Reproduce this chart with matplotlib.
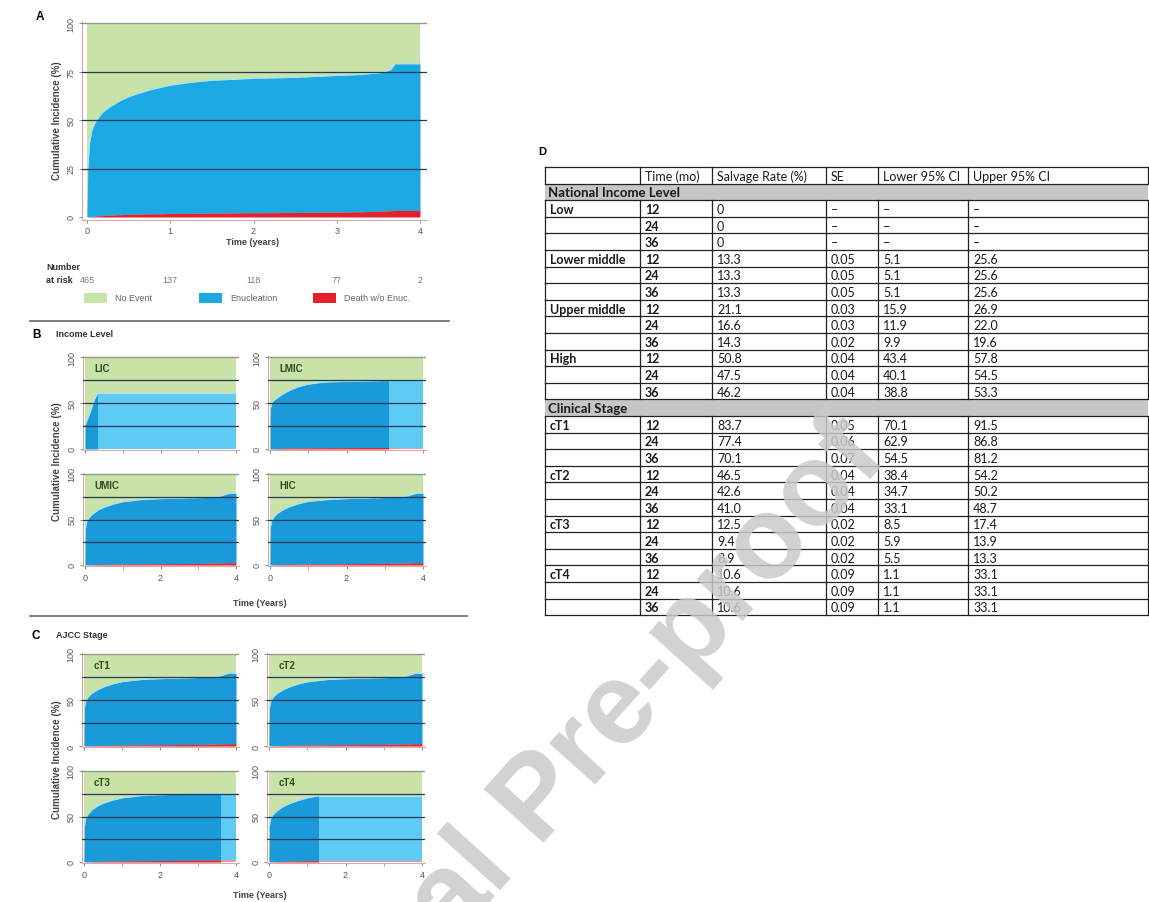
import numpy as np
import matplotlib
matplotlib.use('Agg')
import matplotlib.pyplot as plt

# ---- competing-risk curves (cumulative incidence, %) ----
# Panel A: whole cohort
A_T = [0, 0.01, 0.03, 0.06, 0.1, 0.15, 0.2, 0.3, 0.4, 0.5, 0.6, 0.75, 0.9, 1.0,
       1.25, 1.5, 1.75, 2.0, 2.5, 3.0, 3.3, 3.55, 3.65, 3.7, 4.0]
A_ENUC = [0, 25, 38, 44.8, 48.6, 51.4, 53.7, 56.5, 58.8, 60.6, 62, 63.9, 65.3, 66.2,
          67.6, 68.5, 68.9, 69.3, 69.7, 70.5, 70.8, 71.5, 72.8, 75.6, 75.6]
A_DEATH = [0, 0, 0, 0.2, 0.4, 0.6, 0.8, 1.0, 1.2, 1.4, 1.5, 1.6, 1.7, 1.8,
           1.9, 2.0, 2.1, 2.2, 2.3, 2.5, 2.7, 3.0, 3.2, 3.4, 3.4]
RISK_T = [0, 1, 2, 3, 4]
RISK_N = [465, 137, 118, 77, 2]

# Panel B: income level
LIC_T = [0, 0.005, 0.05, 0.1, 0.15, 0.2, 0.25, 0.3, 0.35]
LIC_ENUC = [0, 26, 31, 36, 42, 48, 54, 58, 61]
LIC_DEATH = [0, 0, 0, 0, 0, 0, 0, 0, 0]
LMIC_T = [0, 0.01, 0.04, 0.1, 0.2, 0.3, 0.45, 0.6, 0.8, 1.0, 1.25, 1.5, 2.0, 2.5, 3.1]
LMIC_ENUC = [0, 44, 50, 52.7, 55.5, 58.3, 61.6, 64.5, 67.4, 69.3, 70.7, 71.6, 72, 72.4, 72.9]
LMIC_DEATH = [0, 0, 0, 0.3, 0.5, 0.7, 0.9, 1.0, 1.1, 1.2, 1.3, 1.4, 1.5, 1.6, 1.6]
UMIC_T = [0, 0.01, 0.04, 0.1, 0.2, 0.35, 0.5, 0.75, 1.0, 1.5, 2.0, 2.5, 3.0, 3.4,
          3.6, 3.75, 3.85, 4.0]
UMIC_ENUC = [0, 40, 47, 51.8, 55.6, 59.9, 62.8, 66.1, 68.5, 70.8, 71.6, 71.9, 72.2, 72.8,
             73.8, 75.6, 76.5, 76.5]
UMIC_DEATH = [0, 0, 0, 0.2, 0.4, 0.6, 0.7, 0.9, 1.0, 1.2, 1.4, 1.6, 1.8, 2.0,
              2.2, 2.4, 2.5, 2.5]
HIC_T = UMIC_T
HIC_ENUC = [0, 41, 48, 52.8, 56.6, 60.4, 63.3, 66.6, 69, 70.8, 71.6, 71.9, 72.4, 73,
            73.8, 75.6, 76.5, 76.5]
HIC_DEATH = UMIC_DEATH

# Panel C: AJCC clinical stage
CT1_T = UMIC_T
CT1_ENUC = [0, 42, 48, 52.8, 56.6, 60.4, 63.3, 66.6, 69, 71.1, 71.9, 72.2, 72.7, 73.2,
            74.3, 76.1, 77, 76.5]
CT1_DEATH = UMIC_DEATH
CT2_T = UMIC_T
CT2_ENUC = [0, 41, 47.5, 52.5, 56.4, 60.2, 63, 66.4, 68.8, 71, 71.8, 72.1, 72.5, 73,
            74, 75.8, 76.8, 76.5]
CT2_DEATH = UMIC_DEATH
CT3_T = [0, 0.01, 0.04, 0.1, 0.2, 0.35, 0.5, 0.75, 1.0, 1.5, 2.0, 2.5, 3.0, 3.6]
CT3_ENUC = [0, 40, 47, 51.8, 56.6, 60.9, 63.7, 67, 69.3, 71.6, 72.4, 72.7, 73, 73.3]
CT3_DEATH = [0, 0, 0, 0.2, 0.4, 0.6, 0.8, 1.0, 1.2, 1.4, 1.6, 1.8, 2.0, 2.2]
CT4_T = [0, 0.01, 0.04, 0.1, 0.2, 0.35, 0.5, 0.75, 1.0, 1.3]
CT4_ENUC = [0, 40, 47, 51.8, 55.6, 59.9, 62.6, 66.4, 69.1, 71.5]
CT4_DEATH = [0, 0, 0, 0.2, 0.4, 0.6, 0.9, 1.1, 1.4, 1.5]

INCOME_NAMES = ["LIC", "LMIC", "UMIC", "HIC"]
STAGE_NAMES = ["cT1", "cT2", "cT3", "cT4"]
LEGEND_LABELS = ["No Event", "Enucleation", "Death w/o Enuc."]

# ---- table D ----
TABLE_HEADER = ["", "Time (mo)", "Salvage Rate (%)", "SE", "Lower 95% CI", "Upper 95% CI"]
SECTION_TITLES = ["National Income Level", "Clinical Stage"]
INCOME_LEVELS = ["Low", "Lower middle", "Upper middle", "High"]
STAGES = ["cT1", "cT2", "cT3", "cT4"]
MONTHS = [12, 24, 36]
INCOME_RATE = [0, 0, 0, 13.3, 13.3, 13.3, 21.1, 16.6, 14.3, 50.8, 47.5, 46.2]
INCOME_SE = [None, None, None, 0.05, 0.05, 0.05, 0.03, 0.03, 0.02, 0.04, 0.04, 0.04]
INCOME_LO = [None, None, None, 5.1, 5.1, 5.1, 15.9, 11.9, 9.9, 43.4, 40.1, 38.8]
INCOME_HI = [None, None, None, 25.6, 25.6, 25.6, 26.9, 22.0, 19.6, 57.8, 54.5, 53.3]
STAGE_RATE = [83.7, 77.4, 70.1, 46.5, 42.6, 41.0, 12.5, 9.4, 8.9, 10.6, 10.6, 10.6]
STAGE_SE = [0.05, 0.06, 0.07, 0.04, 0.04, 0.04, 0.02, 0.02, 0.02, 0.09, 0.09, 0.09]
STAGE_LO = [70.1, 62.9, 54.5, 38.4, 34.7, 33.1, 8.5, 5.9, 5.5, 1.1, 1.1, 1.1]
STAGE_HI = [91.5, 86.8, 81.2, 54.2, 50.2, 48.7, 17.4, 13.9, 13.3, 33.1, 33.1, 33.1]

GREEN = '#c9e2a7'
BLUE_A = '#1ca8e2'
BLUE = '#1a9ad8'
BLUE_LIGHT = '#5ecbf5'
RED = '#e3202b'
RED_LIGHT = '#f0959b'
GRID = '#243a52'
SPINE = '#d8a7ad'
TXT = '#555555'
LAB = '#2f4a1e'

W, H = 1149, 903
fig = plt.figure(figsize=(W / 100, H / 100), dpi=100)
plt.rcParams['font.family'] = ['Liberation Sans', 'DejaVu Sans']


def place(x0, x4, y0, y100, xpad=(0.06, 0.08), ypad=(1.5, 1.5)):
    sx = (x4 - x0) / 4.0
    sy = (y0 - y100) / 100.0
    left, right = x0 - xpad[0] * sx, x4 + xpad[1] * sx
    bottom, top = y0 + ypad[0] * sy, y100 - ypad[1] * sy
    ax = fig.add_axes([left / W, 1 - bottom / H, (right - left) / W, (bottom - top) / H])
    ax.set_xlim(-xpad[0], 4 + xpad[1])
    ax.set_ylim(-ypad[0], 100 + ypad[1])
    return ax


def draw_cif(ax, t, enuc, death, blue, yticks, xlabels=True, minor=True):
    t = np.asarray(t, float)
    death = np.asarray(death, float)
    top = death + np.asarray(enuc, float)
    ax.fill_between([0, 4], 0, 100, color=GREEN, lw=0, zorder=1)
    ax.fill_between(t, death, top, color=blue, lw=0, zorder=2)
    ax.fill_between(t, 0, death, color=RED, lw=0, zorder=3)
    if t[-1] < 4:
        ax.fill_between([t[-1], 4], death[-1], top[-1], color=BLUE_LIGHT, lw=0, zorder=2)
        ax.fill_between([t[-1], 4], 0, death[-1], color=RED_LIGHT, lw=0, zorder=3)
        ax.plot([t[-1], 4], [top[-1], top[-1]], color='#a9e2f2', lw=0.8, zorder=4)
    ax.plot(t[1:], top[1:], color='#a9e2f2', lw=0.9, zorder=4)
    for g in (25, 50, 75):
        ax.axhline(g, color=GRID, lw=0.9, zorder=5)
    ax.axhline(100, color='#8e9c86', lw=1.0, zorder=5)
    for s in ('top', 'right'):
        ax.spines[s].set_visible(False)
    for s in ('left', 'bottom'):
        ax.spines[s].set_color(SPINE)
        ax.spines[s].set_linewidth(0.8)
    ax.set_yticks(yticks)
    ax.set_yticklabels([str(v) for v in yticks], rotation=90, va='center')
    if minor:
        ax.set_xticks([0, 2, 4])
        ax.set_xticks([1, 3], minor=True)
    else:
        ax.set_xticks([0, 1, 2, 3, 4])
    ax.tick_params(labelsize=6.5, colors='#777777', length=2.5, width=0.6, pad=2,
                   labelcolor=TXT)
    ax.tick_params(which='minor', length=2, width=0.6, colors='#999999')
    if not xlabels:
        ax.set_xticklabels([])


# panel A
ax_a = place(87, 420, 218, 24, xpad=(0.06, 0.08), ypad=(1.5, 1.0))
draw_cif(ax_a, A_T, A_ENUC, A_DEATH, BLUE_A, [0, 25, 50, 75, 100], minor=False)

# panel B
b_axes = [place(85, 236, 450, 358), place(270, 423, 450, 358),
          place(85, 236, 566, 475), place(270, 423, 566, 475)]
b_data = [(LIC_T, LIC_ENUC, LIC_DEATH), (LMIC_T, LMIC_ENUC, LMIC_DEATH),
          (UMIC_T, UMIC_ENUC, UMIC_DEATH), (HIC_T, HIC_ENUC, HIC_DEATH)]
for i, (ax, (t, e, d)) in enumerate(zip(b_axes, b_data)):
    draw_cif(ax, t, e, d, BLUE, [0, 50, 100], xlabels=i >= 2)
    ax.text(0.25, 88, INCOME_NAMES[i], fontsize=7, fontweight='bold', color=LAB,
            va='center', zorder=6)

# panel C
c_axes = [place(84, 236, 747, 655), place(269, 422, 747, 655),
          place(84, 236, 863, 772), place(269, 422, 863, 772)]
c_data = [(CT1_T, CT1_ENUC, CT1_DEATH), (CT2_T, CT2_ENUC, CT2_DEATH),
          (CT3_T, CT3_ENUC, CT3_DEATH), (CT4_T, CT4_ENUC, CT4_DEATH)]
for i, (ax, (t, e, d)) in enumerate(zip(c_axes, c_data)):
    draw_cif(ax, t, e, d, BLUE, [0, 50, 100], xlabels=i >= 2)
    ax.text(0.25, 88, STAGE_NAMES[i], fontsize=7, fontweight='bold', color=LAB,
            va='center', zorder=6)

# overlay in pixel coordinates for labels, legend, table and watermark
ov = fig.add_axes([0, 0, 1, 1])
ov.set_xlim(0, W)
ov.set_ylim(H, 0)
ov.axis('off')
ov.patch.set_alpha(0)

ov.text(36, 17, "A", fontsize=8.5, fontweight='bold', va='center')
ov.text(32, 335, "B", fontsize=8.5, fontweight='bold', va='center')
ov.text(56, 335, "Income Level", fontsize=6.5, fontweight='bold', va='center', color='#333333')
ov.text(32, 636, "C", fontsize=8.5, fontweight='bold', va='center')
ov.text(56, 636, "AJCC Stage", fontsize=6.5, fontweight='bold', va='center', color='#333333')

ylab = dict(fontsize=7, fontweight='bold', rotation=90, ha='center', va='center', color='#444444')
ov.text(57, 121, "Cumulative Incidence (%)", **ylab)
ov.text(57, 462, "Cumulative Incidence (%)", **ylab)
ov.text(57, 760, "Cumulative Incidence (%)", **ylab)
xlab = dict(fontsize=6.5, fontweight='bold', ha='center', va='center', color='#444444')
ov.text(253, 243, "Time (years)", **xlab)
ov.text(260, 604, "Time (Years)", **xlab)
ov.text(260, 896, "Time (Years)", **xlab)

# number at risk under panel A
ov.text(46, 268, "Number", fontsize=6.5, fontweight='bold', va='center', color='#333333')
ov.text(46, 281, "at risk", fontsize=6.5, fontweight='bold', va='center', color='#333333')
for t, n in zip(RISK_T, RISK_N):
    ov.text(87 + t * (420 - 87) / 4, 281, str(n), fontsize=6.5, ha='center', va='center',
            color='#777777')

# legend for panel A
leg_x = [84, 199, 313]
for x, lab, col in zip(leg_x, LEGEND_LABELS, [GREEN, BLUE_A, RED]):
    ov.add_patch(plt.Rectangle((x, 294), 23, 10, color=col, lw=0))
    ov.text(x + 31, 299, lab, fontsize=6.5, va='center', color='#666666')

ov.plot([30, 449], [322, 322], color='#666666', lw=1.2)
ov.plot([30, 467], [617, 617], color='#666666', lw=1.2)

# ---- table D ----
ov.text(538, 152, "D", fontsize=8, fontweight='bold', va='center')
col_x = [545, 640, 712, 826, 878, 968, 1148]
row_h = 16.6
top_y = 168


def fmt(v, nd):
    if v is None:
        return "\u2013"
    if v == 0:
        return "0"
    return f"{v:.{nd}f}"


rows = [("header", TABLE_HEADER)]
rows.append(("section", SECTION_TITLES[0]))
for gi, name in enumerate(INCOME_LEVELS):
    for mi, m in enumerate(MONTHS):
        k = gi * 3 + mi
        rows.append(("data", [name if mi == 0 else "", str(m), fmt(INCOME_RATE[k], 1),
                              fmt(INCOME_SE[k], 2), fmt(INCOME_LO[k], 1), fmt(INCOME_HI[k], 1)]))
rows.append(("section", SECTION_TITLES[1]))
for gi, name in enumerate(STAGES):
    for mi, m in enumerate(MONTHS):
        k = gi * 3 + mi
        rows.append(("data", [name if mi == 0 else "", str(m), fmt(STAGE_RATE[k], 1),
                              fmt(STAGE_SE[k], 2), fmt(STAGE_LO[k], 1), fmt(STAGE_HI[k], 1)]))

tfont = ['Lato', 'DejaVu Sans']
y = top_y
for kind, content in rows:
    yc = y + row_h / 2
    if kind == "section":
        ov.add_patch(plt.Rectangle((col_x[0], y), col_x[-1] - col_x[0], row_h,
                                   color='#c6c6c6', lw=0, zorder=1))
        ov.text(col_x[0] + 3, yc + 0.5, content, fontsize=9.5, fontweight='bold',
                family=tfont, va='center', color='#1a1a1a', zorder=3)
    else:
        for ci, txt in enumerate(content):
            bold = kind == "data" and ci in (0, 1)
            ov.text(col_x[ci] + 5, yc + 0.5, txt, fontsize=9,
                    fontweight='bold' if bold else 'normal', family=tfont,
                    va='center', color='#1a1a1a', zorder=3)
        for cx in col_x:
            ov.plot([cx, cx], [y, y + row_h], color='#222222', lw=0.9, zorder=2)
    ov.plot([col_x[0], col_x[-1]], [y, y], color='#222222', lw=0.9, zorder=2)
    y += row_h
ov.plot([col_x[0], col_x[-1]], [y, y], color='#222222', lw=0.9, zorder=2)

# watermark
ov.text(890, 458, "Journal Pre-proof", fontsize=84, fontweight='bold', color='#cacaca',
        rotation=48, rotation_mode='anchor', ha='right', va='baseline', alpha=0.85,
        zorder=10)

fig.savefig('out.png', dpi=100)
